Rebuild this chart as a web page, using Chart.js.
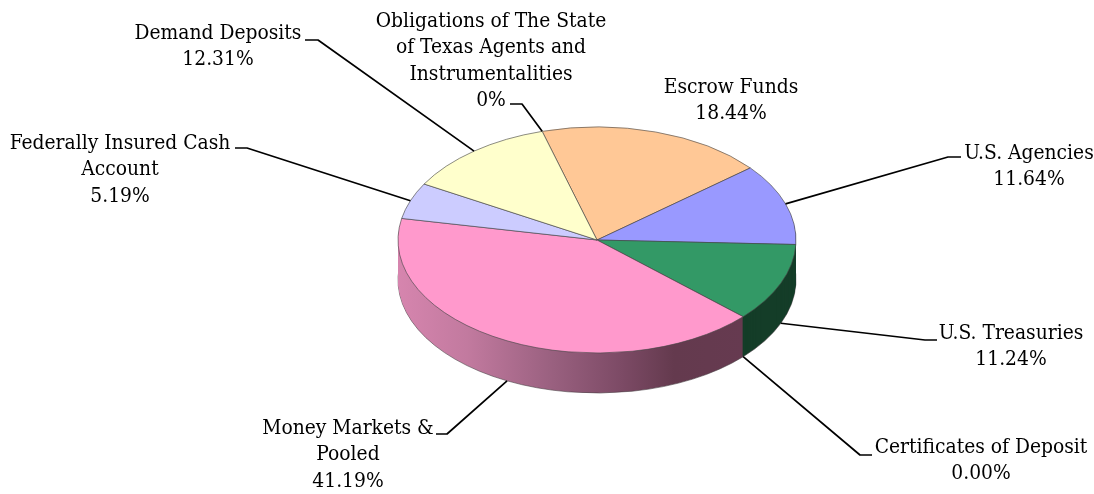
<!DOCTYPE html>
<html><head><meta charset="utf-8">
<style>html,body{margin:0;padding:0;background:#fff}canvas{display:block}#w{width:1094px;height:494px;position:relative}</style>
<script src="https://cdn.jsdelivr.net/npm/chart.js@4"></script>
</head><body><div id="w"><canvas id="c"></canvas></div>
<script>
const categories = ["Escrow Funds","U.S. Agencies","U.S. Treasuries","Certificates of Deposit","Money Markets & Pooled","Federally Insured Cash Account","Demand Deposits","Obligations of The State of Texas Agents and Instrumentalities"];
const shares = [18.44,11.64,11.24,0.00,41.19,5.19,12.31,0];
const shareText = ["18.44%","11.64%","11.24%","0.00%","41.19%","5.19%","12.31%","0%"];
const labelLines = [["Escrow Funds"],["U.S. Agencies"],["U.S. Treasuries"],["Certificates of Deposit"],["Money Markets &","Pooled"],["Federally Insured Cash","Account"],["Demand Deposits"],["Obligations of The State","of Texas Agents and","Instrumentalities"]];
const topColors = ["#FFC896","#9999FF","#339966","#993366","#FF99CC","#CCCCFF","#FFFFCC","#66CCCC"];
const sideColors = ["#7F6449","#4C4C7F","#143D28","#4C1933",null,"#66667F","#7F7F66","#336666"];
// layout
const CX=597, CY=240, R=199, K=0.568, DEPTH=40, LH=26.4;
const labelX=[731,1029,1011,981,348,120,218,491];
const labelTop=[93,159,339,453,434,149,39,27];
const elbow=[null,[948,157,961,157],[925,340,937,340],[860,455,872,455],[447,434,436,434],[247,148,235,148],[318,40,305,40],[522,104,510,104]];
const FONT='20.8px "DejaVu Serif Condensed"';

const pie3d={id:'pie3d',
  beforeDatasetsDraw(chart){
    const ctx=chart.ctx, arcs=chart.getDatasetMeta(0).data;
    const g=ctx.createLinearGradient(CX-R,0,CX+146,0);
    g.addColorStop(0,'#D685AE');g.addColorStop(0.2,'#C27A9F');g.addColorStop(0.45,'#99607F');g.addColorStop(0.65,'#7C4A65');g.addColorStop(0.8,'#643A4E');g.addColorStop(1,'#663A50');
    for(let d=DEPTH;d>=1;d--){
      ctx.save();
      ctx.translate(CX,CY+d);ctx.scale(1,K);ctx.translate(-arcs[0].x,-arcs[0].y);
      arcs.forEach((a,i)=>{
        const saved=a.options, o=Object.create(saved);
        o.backgroundColor=sideColors[i]||g;
        o.borderWidth=d===DEPTH?1:0;
        o.borderColor='rgba(70,60,65,.75)';
        a.options=o;a.draw(ctx);a.options=saved;
      });
      ctx.restore();
    }
    ctx.save();
    ctx.translate(CX,CY);ctx.scale(1,K);ctx.translate(-arcs[0].x,-arcs[0].y);
  },
  afterDatasetsDraw(chart){
    chart.ctx.restore();
    const ctx=chart.ctx, arcs=chart.getDatasetMeta(0).data;
    ctx.save();
    ctx.strokeStyle='#000';ctx.lineWidth=1.7;ctx.lineJoin='round';
    arcs.forEach((a,i)=>{
      const e=elbow[i]; if(!e) return;
      const m=(a.startAngle+a.endAngle)/2;
      const sy=Math.sin(m);
      const px=CX+R*Math.cos(m), py=CY+K*R*sy+(sy>0?DEPTH:0);
      ctx.beginPath();ctx.moveTo(px,py);ctx.lineTo(e[0],e[1]);ctx.lineTo(e[2],e[3]);ctx.stroke();
    });
    ctx.fillStyle='#000';ctx.font=FONT;ctx.textAlign='center';ctx.textBaseline='alphabetic';
    categories.forEach((c,i)=>{
      const lines=labelLines[i].concat([shareText[i]]);
      lines.forEach((t,j)=>ctx.fillText(t,labelX[i],labelTop[i]+j*LH));
    });
    ctx.restore();
  }
};

new Chart(document.getElementById('c'),{
  type:'pie',
  data:{labels:categories,datasets:[{data:shares,backgroundColor:topColors,borderColor:'rgba(70,70,70,.8)',borderWidth:1,clip:false}]},
  options:{
    responsive:true,maintainAspectRatio:false,animation:false,
    rotation:-16,radius:R,
    layout:{padding:{left:CX-R,right:1094-CX-R,top:48,bottom:48}},
    plugins:{legend:{display:false},tooltip:{enabled:false}}
  },
  plugins:[pie3d]
});
</script></body></html>
